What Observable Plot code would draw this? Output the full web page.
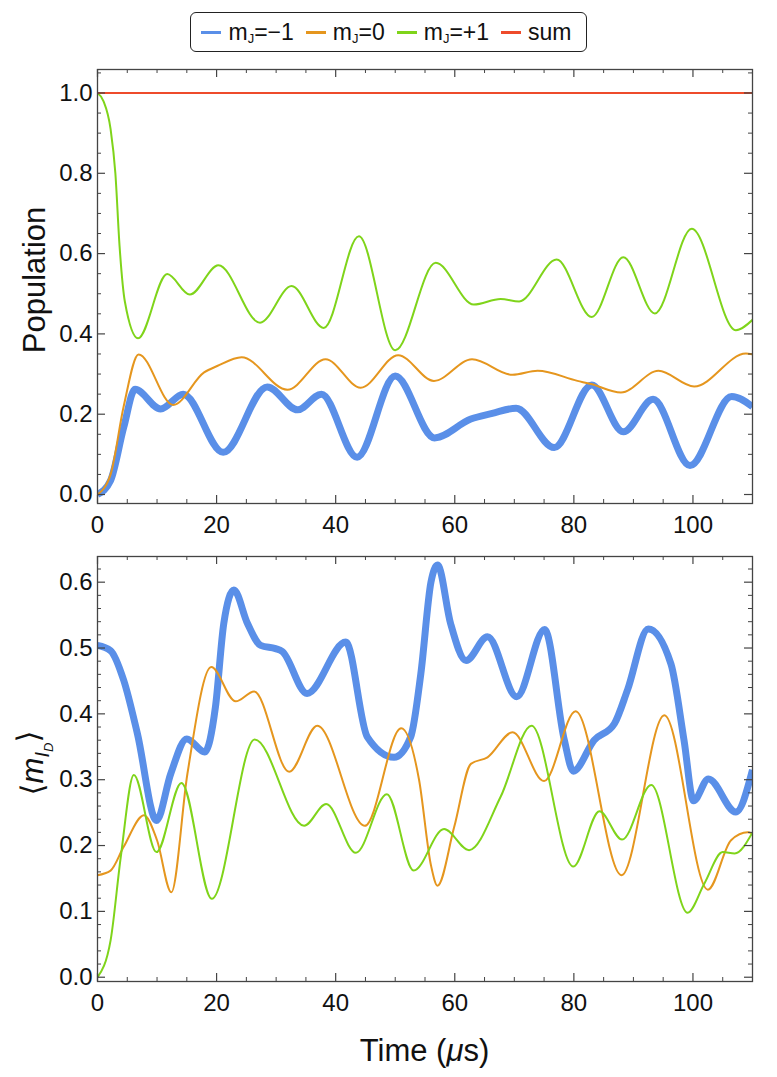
<!DOCTYPE html>
<html><head><meta charset="utf-8">
<script src="https://cdn.jsdelivr.net/npm/d3@7"></script>
<script src="https://cdn.jsdelivr.net/npm/@observablehq/plot@0.6"></script>
<style>
body{margin:0;background:#fff;}
#wrap{position:relative;width:777px;height:1077px;font-family:"Liberation Sans",Arial,sans-serif;color:#111;}
#legend{position:absolute;left:190px;top:12px;width:397px;height:40px;box-sizing:border-box;border:1.5px solid #222;border-radius:6px;display:flex;align-items:center;justify-content:center;font-size:23px;padding-right:4px;}
.item{display:flex;align-items:center;margin:0 6px;white-space:nowrap;}
.sw{display:inline-block;width:20px;height:3px;margin-right:7px;}
.item sub{font-size:13px;vertical-align:-3px;}
#top{position:absolute;left:0;top:60px;}
#bot{position:absolute;left:0;top:543px;}
</style></head>
<body>
<div id="wrap">
  <div id="legend"></div>
  <div id="top"></div>
  <div id="bot"></div>
</div>
<script>
// ---------- data ----------
const seriesNames = ["m_J=-1", "m_J=0", "m_J=+1", "sum"];
const seriesColors = ["#5A8FE8", "#E5961E", "#7FD41A", "#EE4B2B"];

const xTicks = [0, 20, 40, 60, 80, 100];
const popTicks = [0.0, 0.2, 0.4, 0.6, 0.8, 1.0];
const mTicks = [0.0, 0.1, 0.2, 0.3, 0.4, 0.5, 0.6];

// Top panel: Population
const popBlueT = [0,2.2,4.4,6.3,10.6,14.4,21.1,28.5,33.6,37.6,43.6,50.0,56.6,62.7,66.3,70.3,76.7,83.0,88.3,93.3,99.5,106.5,110];
const popBlueV = [0,0.035,0.167,0.262,0.213,0.25,0.105,0.268,0.211,0.25,0.093,0.295,0.141,0.188,0.202,0.215,0.117,0.273,0.156,0.237,0.072,0.244,0.219];

const popOrangeT = [0,2.2,4.4,6.9,12.7,17.9,20.1,24.2,31.9,38.3,44.2,50.5,56.5,62.9,69.7,73.9,80.6,82.9,87.9,94.2,100.2,108.9,110];
const popOrangeV = [0,0.05,0.22,0.349,0.223,0.304,0.32,0.342,0.261,0.337,0.266,0.347,0.283,0.337,0.298,0.308,0.283,0.275,0.254,0.308,0.269,0.351,0.349];

const popGreenT = [0,1.0,2.2,3.0,3.7,4.6,6.8,11.7,15.5,20.3,27.3,32.6,38.0,43.9,50.0,56.8,63.2,67.7,70.8,77.1,83.0,88.3,93.6,99.8,107.2,110];
const popGreenV = [1.0,0.98,0.91,0.8,0.62,0.48,0.389,0.549,0.498,0.571,0.428,0.519,0.415,0.643,0.359,0.577,0.473,0.487,0.481,0.585,0.442,0.591,0.451,0.662,0.409,0.435];

const popSumT = [0,110];
const popSumV = [1.0,1.0];

// Bottom panel: <m_I_D>
const mBlueT = [0,2.2,4.4,6.7,9.9,12.3,15.0,18.0,19.8,21.2,22.9,25.2,27.4,29.9,31.0,35.2,41.7,45.3,49.8,52.6,54.3,56.0,57.1,59.3,61.9,65.5,70.4,75.1,78.4,79.9,83.4,86.8,89.0,92.5,96.3,98.5,100.1,102.6,107.2,110];
const mBlueV = [0.504,0.496,0.451,0.37,0.238,0.309,0.362,0.342,0.41,0.537,0.588,0.537,0.504,0.499,0.495,0.431,0.509,0.365,0.334,0.365,0.461,0.6,0.626,0.537,0.481,0.517,0.426,0.528,0.36,0.313,0.36,0.385,0.436,0.529,0.476,0.36,0.268,0.301,0.251,0.315];

const mOrangeT = [0,2.2,4.4,7.8,10.0,12.4,15.1,19.1,23.2,26.3,32.2,36.9,44.9,51.0,54.0,56.0,57.1,59.9,62.7,65.5,69.7,75.0,80.3,88.0,95.2,102.5,106.4,109.2,110];
const mOrangeV = [0.155,0.162,0.198,0.246,0.208,0.129,0.309,0.471,0.419,0.434,0.312,0.382,0.23,0.378,0.30,0.17,0.139,0.228,0.324,0.334,0.372,0.298,0.404,0.155,0.398,0.133,0.208,0.22,0.218];

const mGreenT = [0,2.2,3.9,6.1,9.9,14.1,19.2,26.4,34.7,38.4,43.4,48.6,53.1,58.2,62.4,67.7,72.9,79.9,84.3,88.1,93.0,99.1,101.9,105.0,107.0,110];
const mGreenV = [0,0.056,0.182,0.307,0.19,0.295,0.119,0.361,0.23,0.263,0.189,0.278,0.162,0.225,0.193,0.274,0.382,0.168,0.252,0.209,0.292,0.098,0.142,0.19,0.188,0.22];

// ---------- helpers ----------
const zip = (T, V) => T.map((t, i) => ({t, v: V[i]}));
const xMinor = d3.range(0, 111, 5).filter(d => d % 20 !== 0);
const popMinor = d3.range(0, 1.051, 0.05).map(d => +d.toFixed(2)).filter(d => Math.round(d * 100) % 20 !== 0);
const mMinor = d3.range(0, 0.64, 0.02).map(d => +d.toFixed(2)).filter(d => Math.round(d * 100) % 10 !== 0);

// ---------- legend ----------
const legend = document.getElementById("legend");
const legendHTML = [
  "m<sub>J</sub>=\u22121", "m<sub>J</sub>=0", "m<sub>J</sub>=+1", "sum"
];
legendHTML.forEach((h, i) => {
  const it = document.createElement("div");
  it.className = "item";
  it.innerHTML = `<span class="sw" style="background:${seriesColors[i]}"></span><span>${h}</span>`;
  legend.appendChild(it);
});

const W = 777, ML = 97, MR = 25;
const FW = W - ML - MR;

function panel({lines, yDomain, yMajor, yMinor, H, mt, mb}) {
  const FH = H - mt - mb;
  const tc = "#444";
  return Plot.plot({
    width: W, height: H,
    marginLeft: ML, marginRight: MR, marginTop: mt, marginBottom: mb,
    x: {domain: [0, 110]},
    y: {domain: yDomain},
    style: {fontFamily: "Liberation Sans, Arial, sans-serif", fontSize: "24px", color: "#111", background: "#fff"},
    marks: [
      ...lines.map(s => Plot.line(s.data, {x: "t", y: "v", stroke: s.color, strokeWidth: s.w, curve: "monotone-x", clip: true, strokeLinecap: "butt"})),
      Plot.ruleX(xTicks, {insetTop: FH - 8, stroke: tc, strokeWidth: 1.2}),
      Plot.ruleX(xTicks, {insetBottom: FH - 8, stroke: tc, strokeWidth: 1.2}),
      Plot.ruleX(xMinor, {insetTop: FH - 4, stroke: tc, strokeWidth: 1}),
      Plot.ruleX(xMinor, {insetBottom: FH - 4, stroke: tc, strokeWidth: 1}),
      Plot.ruleY(yMajor, {insetRight: FW - 8, stroke: tc, strokeWidth: 1.2}),
      Plot.ruleY(yMajor, {insetLeft: FW - 8, stroke: tc, strokeWidth: 1.2}),
      Plot.ruleY(yMinor, {insetRight: FW - 4, stroke: tc, strokeWidth: 1}),
      Plot.ruleY(yMinor, {insetLeft: FW - 4, stroke: tc, strokeWidth: 1}),
      Plot.frame({stroke: "#444", strokeWidth: 1.3}),
      Plot.axisX({ticks: xTicks, tickSize: 0, tickPadding: 12, label: null, tickFormat: d3.format("d"), fontSize: 24}),
      Plot.axisY({ticks: yMajor, tickSize: 0, tickPadding: 5, label: null, tickFormat: d3.format(".1f"), fontSize: 24})
    ]
  });
}

// ---------- top ----------
const topH = 483, topMt = 9, topMb = 40;
const topSvg = panel({
  lines: [
    {data: zip(popBlueT, popBlueV), color: seriesColors[0], w: 7},
    {data: zip(popOrangeT, popOrangeV), color: seriesColors[1], w: 2},
    {data: zip(popGreenT, popGreenV), color: seriesColors[2], w: 2},
    {data: zip(popSumT, popSumV), color: seriesColors[3], w: 2.2}
  ],
  yDomain: [-0.0224, 1.0585], yMajor: popTicks, yMinor: popMinor,
  H: topH, mt: topMt, mb: topMb
});
document.getElementById("top").appendChild(topSvg);
d3.select(topSvg).append("text")
  .attr("transform", `translate(34,${topMt + (topH - topMt - topMb) / 2 - 6}) rotate(-90)`)
  .attr("text-anchor", "middle").attr("dy", "0.35em")
  .attr("font-size", 31).attr("fill", "#111")
  .text("Population");

// ---------- bottom ----------
const botH = 534, botMt = 13, botMb = 96;
const botSvg = panel({
  lines: [
    {data: zip(mBlueT, mBlueV), color: seriesColors[0], w: 7},
    {data: zip(mOrangeT, mOrangeV), color: seriesColors[1], w: 2},
    {data: zip(mGreenT, mGreenV), color: seriesColors[2], w: 2}
  ],
  yDomain: [-0.0065, 0.639], yMajor: mTicks, yMinor: mMinor,
  H: botH, mt: botMt, mb: botMb
});
document.getElementById("bot").appendChild(botSvg);
const yl = d3.select(botSvg).append("text")
  .attr("transform", `translate(32,${763 - 543}) rotate(-90)`)
  .attr("text-anchor", "middle").attr("dy", "0.35em")
  .attr("font-size", 31).attr("fill", "#111");
yl.append("tspan").attr("font-family", "DejaVu Sans").text("\u27E8");
yl.append("tspan").attr("font-style", "italic").text("m");
yl.append("tspan").attr("font-style", "italic").attr("font-size", 20).attr("dy", "0.3em").text("I");
yl.append("tspan").attr("font-style", "italic").attr("font-size", 13).attr("dy", "0.35em").text("D");
yl.append("tspan").attr("font-family", "DejaVu Sans").attr("dy", "-0.45em").text("\u27E9");

const xl = d3.select(botSvg).append("text")
  .attr("x", ML + FW / 2).attr("y", 1050 - 543)
  .attr("text-anchor", "middle").attr("dy", "0.35em")
  .attr("font-size", 31).attr("fill", "#111");
xl.append("tspan").text("Time (");
xl.append("tspan").attr("font-style", "italic").text("\u03BC");
xl.append("tspan").text("s)");
</script>
</body></html>
